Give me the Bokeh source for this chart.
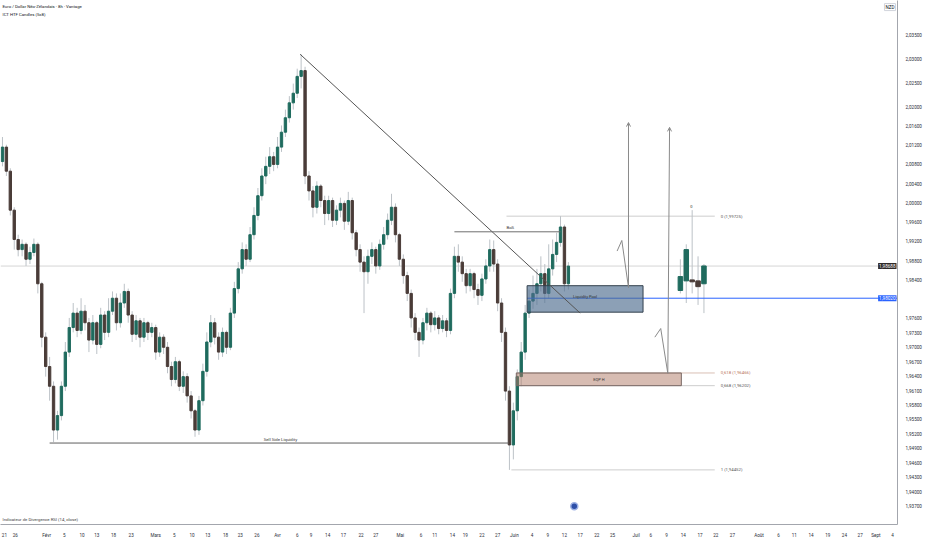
from bokeh.plotting import figure
from bokeh.models import (Range1d, FixedTicker, CustomJSTickFormatter, Label,
                          Arrow, OpenHead, ColumnDataSource)
from bokeh.embed import file_html
from bokeh.resources import INLINE

# ---------------- data ----------------
first_open = 2.0086
closes = [
    2.0116, 2.0066, 1.9985, 1.9924, 1.9903, 1.9914, 1.9883, 1.9897, 1.9914, 1.9832,
    1.9721, 1.9660, 1.9619, 1.9528, 1.9558, 1.9619, 1.9690, 1.9741, 1.9771, 1.9735,
    1.9775, 1.9751, 1.9715, 1.9751, 1.9706, 1.9767, 1.9731, 1.9775, 1.9802, 1.9751,
    1.9792, 1.9816, 1.9767, 1.9727, 1.9755, 1.9721, 1.9751, 1.9731, 1.9741, 1.9690,
    1.9721, 1.9700, 1.9660, 1.9633, 1.9670, 1.9619, 1.9639, 1.9599, 1.9568, 1.9528,
    1.9589, 1.9650, 1.9711, 1.9751, 1.9721, 1.9690, 1.9731, 1.9700, 1.9771, 1.9822,
    1.9863, 1.9903, 1.9883, 1.9934, 1.9974, 2.0015, 2.0056, 2.0076, 2.0096, 2.0080,
    2.0116, 2.0147, 2.0177, 2.0208, 2.0228, 2.0263, 2.0275, 2.0056, 2.0025, 1.9991,
    2.0035, 2.0005, 1.9978, 2.0005, 1.9964, 1.9985, 1.9999, 1.9962, 2.0005, 1.9938,
    1.9903, 1.9877, 1.9857, 1.9889, 1.9903, 1.9869, 1.9914, 1.9934, 1.9964, 1.9991,
    1.9934, 1.9883, 1.9849, 1.9812, 1.9761, 1.9731, 1.9715, 1.9751, 1.9771, 1.9747,
    1.9761, 1.9739, 1.9755, 1.9735, 1.9812, 1.9889, 1.9877, 1.9853, 1.9828, 1.9853,
    1.9820, 1.9808, 1.9842, 1.9869, 1.9903, 1.9873, 1.9792, 1.9731, 1.9609, 1.9497,
    1.9568, 1.9639, 1.9690, 1.9771, 1.9796, 1.9812, 1.9832, 1.9853, 1.9812, 1.9863,
    1.9893, 1.9918, 1.9950, 1.9832, 1.98688,
]
highs = [
    2.0137, 2.0121, 2.0072, 1.9991, 1.9934, 1.9924, 1.9918, 1.9909, 1.9926, 1.9918,
    1.9836, 1.9731, 1.9680, 1.9629, 1.9568, 1.9629, 1.9711, 1.9761, 1.9792, 1.9782,
    1.9802, 1.9788, 1.9761, 1.9767, 1.9755, 1.9782, 1.9775, 1.9802, 1.9816, 1.9812,
    1.9812, 1.9832, 1.9822, 1.9775, 1.9767, 1.9761, 1.9761, 1.9755, 1.9751, 1.9747,
    1.9731, 1.9727, 1.9711, 1.9670, 1.9680, 1.9674, 1.9650, 1.9646, 1.9609, 1.9572,
    1.9599, 1.9666, 1.9731, 1.9767, 1.9761, 1.9731, 1.9741, 1.9735, 1.9782, 1.9836,
    1.9877, 1.9918, 1.9914, 1.9950, 1.9991, 2.0031, 2.0072, 2.0096, 2.0116, 2.0106,
    2.0137, 2.0161, 2.0194, 2.0222, 2.0248, 2.0279, 2.0309, 2.0283, 2.0066, 2.0035,
    2.0045, 2.0039, 2.0015, 2.0015, 2.0011, 1.9995, 2.0011, 2.0005, 2.0023, 2.0011,
    1.9944, 1.9914, 1.9889, 1.9903, 1.9918, 1.9909, 1.9924, 1.9950, 1.9978, 2.0019,
    1.9999, 1.9938, 1.9893, 1.9857, 1.9820, 1.9771, 1.9741, 1.9761, 1.9782, 1.9775,
    1.9775, 1.9767, 1.9767, 1.9761, 1.9822, 1.9909, 1.9914, 1.9889, 1.9863, 1.9863,
    1.9857, 1.9832, 1.9853, 1.9883, 1.9924, 1.9922, 1.9883, 1.9802, 1.9741, 1.9619,
    1.9585, 1.9654, 1.9711, 1.9788, 1.9820, 1.9849, 1.9863, 1.9889, 1.9873, 1.9914,
    1.9924, 1.9938, 1.99725, 1.9955, 1.9877,
]
lows = [
    2.0076, 2.0056, 1.9974, 1.9903, 1.9889, 1.9889, 1.9869, 1.9873, 1.9889, 1.9812,
    1.9700, 1.9639, 1.9589, 1.9503, 1.9508, 1.9548, 1.9609, 1.9680, 1.9731, 1.9721,
    1.9727, 1.9735, 1.9690, 1.9706, 1.9686, 1.9698, 1.9715, 1.9721, 1.9767, 1.9735,
    1.9741, 1.9782, 1.9751, 1.9711, 1.9715, 1.9700, 1.9711, 1.9715, 1.9721, 1.9674,
    1.9680, 1.9686, 1.9646, 1.9619, 1.9625, 1.9609, 1.9605, 1.9585, 1.9552, 1.9514,
    1.9518, 1.9579, 1.9639, 1.9700, 1.9706, 1.9674, 1.9680, 1.9686, 1.9694, 1.9761,
    1.9812, 1.9853, 1.9869, 1.9877, 1.9924, 1.9964, 2.0005, 2.0039, 2.0060, 2.0066,
    2.0072, 2.0106, 2.0137, 2.0167, 2.0194, 2.0218, 2.0238, 2.0039, 2.0005, 1.9970,
    1.9978, 1.9991, 1.9954, 1.9964, 1.9950, 1.9954, 1.9970, 1.9944, 1.9954, 1.9924,
    1.9889, 1.9857, 1.9771, 1.9832, 1.9873, 1.9853, 1.9861, 1.9903, 1.9924, 1.9954,
    1.9918, 1.9869, 1.9832, 1.9796, 1.9741, 1.9715, 1.9680, 1.9706, 1.9735, 1.9731,
    1.9735, 1.9727, 1.9731, 1.9721, 1.9727, 1.9802, 1.9857, 1.9836, 1.9812, 1.9816,
    1.9802, 1.9788, 1.9796, 1.9832, 1.9857, 1.9857, 1.9775, 1.9711, 1.9589, 1.94452,
    1.9467, 1.9548, 1.9619, 1.9674, 1.9761, 1.9780, 1.9788, 1.9816, 1.9792, 1.9802,
    1.9849, 1.9877, 1.9909, 1.9816, 1.9820,
]

# higher-timeframe candles (ICT HTF Candles)
htf_x = [172.5, 174.0, 175.5, 177.0, 178.5]
htf_open = [1.9818, 1.9838, 1.9840, 1.9838, 1.9832]
htf_close = [1.9847, 1.9903, 1.9836, 1.9826, 1.9869]
htf_high = [1.9883, 1.9914, 1.9985, 1.9889, 1.9873]
htf_low = [1.9812, 1.9792, 1.9812, 1.9788, 1.9771]

# time axis (bar index positions) and labels
date_ticks = [0.5, 3.25, 11.25, 15.75, 20.25, 24.0, 28.25, 32.75, 39.0, 43.75,
              48.25, 52.25, 56.75, 60.5, 64.75, 70.0, 75.0, 78.5, 82.75, 86.75,
              91.25, 95.0, 101.25, 106.5, 110.0, 114.5, 117.75, 122.0, 126.0, 130.25,
              134.75, 138.75, 143.0, 147.0, 151.25, 155.25, 161.25, 165.0, 169.0, 173.25,
              177.5, 181.5, 185.75, 192.5, 197.5, 201.5, 205.75, 210.0, 214.25, 218.25,
              222.25, 226.5]
date_labels = ["21", "26", "Févr", "5", "10", "13", "18", "23", "Mars", "5",
               "10", "13", "18", "23", "26", "Avr", "6", "9", "14", "17",
               "22", "27", "Mai", "6", "11", "14", "19", "22", "27", "Juin",
               "4", "9", "12", "17", "22", "25", "Juil", "6", "9", "14",
               "17", "22", "27", "Août", "6", "11", "14", "19", "24", "27",
               "Sept", "4"]

price_ticks = [2.035, 2.030, 2.025, 2.020, 2.016, 2.012, 2.008, 2.004, 2.000,
               1.996, 1.992, 1.988, 1.984, 1.976, 1.973, 1.970, 1.967, 1.964,
               1.961, 1.958, 1.955, 1.952, 1.949, 1.946, 1.943, 1.940, 1.937]

last_price = 1.98688
blue_level = 1.9802
fib_ratios = ["0", "0,618", "0,668", "1"]
fib_prices = [1.99725, 1.96466, 1.96202, 1.94452]
bos_level = 1.9940
ssl_level = 1.9501

# ---------------- styles ----------------
UP = "#1f6b5e"
DN = "#4a3c38"
WICK = "#bcc2c7"
FONT = "Roboto"
TXT = "#333333"

X0, X1 = -0.5, 227.75
Y0, Y1 = 1.93317, 2.04207

p = figure(frame_width=897, frame_height=524, x_range=Range1d(X0, X1),
           y_range=Range1d(Y0, Y1), output_backend="svg", toolbar_location=None,
           y_axis_location="right", min_border=0, min_border_left=0,
           min_border_right=0, min_border_top=0, min_border_bottom=0)
p.outline_line_color = None
p.grid.grid_line_color = None
p.background_fill_color = "white"
p.border_fill_color = "white"

# axes
p.yaxis.ticker = FixedTicker(ticks=price_ticks)
p.yaxis.formatter = CustomJSTickFormatter(code="return tick.toFixed(5).replace('.', ',');")
p.xaxis.ticker = FixedTicker(ticks=date_ticks)
p.xaxis.formatter = CustomJSTickFormatter(args=dict(tpos=date_ticks, tlab=date_labels), code="""
let best = 0, bd = 1e9;
for (let i = 0; i < tpos.length; i++) { const d = Math.abs(tpos[i] - tick); if (d < bd) { bd = d; best = i; } }
return tlab[best];
""")
for ax in (p.xaxis[0], p.yaxis[0]):
    ax.major_tick_line_color = None
    ax.minor_tick_line_color = None
    ax.axis_line_color = "#a3a6ad"
    ax.major_label_text_font = FONT
    ax.major_label_text_font_size = "4.6px"
    ax.major_label_text_color = "#2a2e39"
    ax.major_label_standoff = 2

# current price line
p.segment(x0=[X0], y0=[last_price], x1=[X1], y1=[last_price], line_color="#d6d6d6", line_width=1)

# fib level lines
fib_x0 = [128.25, 130.75, 130.75, 129.5]
fib_cols = ["#cdcdcd", "#d9bfb4", "#cdcdcd", "#cdcdcd"]
for fx, fp, fc in zip(fib_x0, fib_prices, fib_cols):
    p.segment(x0=[fx], y0=[fp], x1=[181.25], y1=[fp], line_color=fc, line_width=1)

# candles
n = len(closes)
opens = [first_open] + closes[:-1]
xs = list(range(n))
src = ColumnDataSource(dict(
    x=xs, h=highs, l=lows,
    top=[max(o, c) for o, c in zip(opens, closes)],
    bot=[min(o, c) for o, c in zip(opens, closes)],
    col=[UP if c >= o else DN for o, c in zip(opens, closes)],
))
p.segment("x", "h", "x", "l", source=src, line_color=WICK, line_width=1)
p.vbar(x="x", width=0.6, top="top", bottom="bot", fill_color="col", line_color="col", source=src)

hsrc = ColumnDataSource(dict(
    x=htf_x, h=htf_high, l=htf_low,
    top=[max(o, c) for o, c in zip(htf_open, htf_close)],
    bot=[min(o, c) for o, c in zip(htf_open, htf_close)],
    col=[UP if c >= o else DN for o, c in zip(htf_open, htf_close)],
))
p.segment("x", "h", "x", "l", source=hsrc, line_color=WICK, line_width=1)
p.vbar(x="x", width=1.15, top="top", bottom="bot", fill_color="col", line_color="col", source=hsrc)

# blue horizontal level
p.segment(x0=[133.5], y0=[blue_level], x1=[X1], y1=[blue_level], line_color="#2962ff", line_width=1)

# liquidity box
p.quad(left=[133.5], right=[163.0], bottom=[1.9773], top=[1.9828],
       fill_color="#4f6d8f", fill_alpha=0.65, line_color="#33404d", line_width=1)
# EQP box
p.quad(left=[130.75], right=[172.75], bottom=[fib_prices[2]], top=[fib_prices[1]],
       fill_color="#b07a66", fill_alpha=0.5, line_color="#7a6a66", line_width=1)

# trend line
p.line(x=[75.75, 147.0], y=[2.0309, 1.9771], line_color="#555555", line_width=1)
# BoS
p.segment(x0=[115.0], y0=[bos_level], x1=[142.0], y1=[bos_level], line_color="#6e6e6e", line_width=1)
# Sell side liquidity
p.segment(x0=[12.0], y0=[ssl_level], x1=[128.75], y1=[ssl_level], line_color="#5f5f5f", line_width=1)

# projection zig-zags with arrows
p.line(x=[156.4, 157.6, 159.3], y=[1.9900, 1.9922, 1.9824], line_color="#8a8a8a", line_width=1)
p.add_layout(Arrow(end=OpenHead(size=4, line_color="#8a8a8a", line_width=1),
                   x_start=159.3, y_start=1.9824, x_end=159.3, y_end=2.0167,
                   line_color="#8a8a8a", line_width=1))
p.line(x=[166.0, 167.5, 169.3], y=[1.9721, 1.9739, 1.9646], line_color="#8a8a8a", line_width=1)
p.add_layout(Arrow(end=OpenHead(size=4, line_color="#8a8a8a", line_width=1),
                   x_start=169.3, y_start=1.9646, x_end=169.75, y_end=2.0157,
                   line_color="#8a8a8a", line_width=1))

# event marker
p.scatter(x=[145.5], y=[1.93695], size=7, fill_color="#2d4fa8", line_color="#9db1e4", line_width=1.5)

def lab(x, y, text, size="4.3px", color=TXT, align="left", baseline="middle", **kw):
    p.add_layout(Label(x=x, y=y, text=text, text_font=FONT, text_font_size=size,
                       text_color=color, text_align=align, text_baseline=baseline, **kw))

lab(128.25, bos_level + 0.0003, "BoS", baseline="bottom")
lab(70.75, ssl_level + 0.0002, "Sell Side Liquidity", baseline="bottom", align="center")
lab(148.25, blue_level + 0.0003, "Liquidity Pool", size="4px", align="center")
lab(151.75, (fib_prices[1] + fib_prices[2]) / 2, "EQP H", size="4px", align="center")
lab(175.3, 1.9990, "0", size="4px", align="center", baseline="bottom")
fib_txt_cols = ["#555555", "#b8735a", "#555555", "#555555"]
for r, fp, fc in zip(fib_ratios, fib_prices, fib_txt_cols):
    lab(182.75, fp, "%s (%s)" % (r, ("%.5f" % fp).replace(".", ",")), color=fc)

lab(0.0, 2.0409, "Euro / Dollar Néo-Zélandais · 8h · Vantage", size="4.3px", color="#131722")
lab(0.0, 2.0391, "ICT HTF Candles (5x8)", size="4.3px", color="#131722")
lab(0.0, 1.9343, "Indicateur de Divergence RSI (14, close)", size="4.3px", color="#444444")

# price tags at the right edge of the price pane
lab(X1, last_price, ("%.5f" % last_price).replace(".", ","), size="4.6px", color="white",
    align="right", background_fill_color="#2f2a2a", x_offset=-1, padding=1)
lab(X1, blue_level, ("%.5f" % blue_level).replace(".", ","), size="4.6px", color="white",
    align="right", background_fill_color="#2962ff", x_offset=-1, padding=1)
lab(X1, 2.0407, "NZD", size="4.6px", color="#131722", align="right",
    background_fill_color="white", border_line_color="#d1d4dc", x_offset=-2, padding=1)

open("out.html", "w").write(file_html(p, INLINE))
